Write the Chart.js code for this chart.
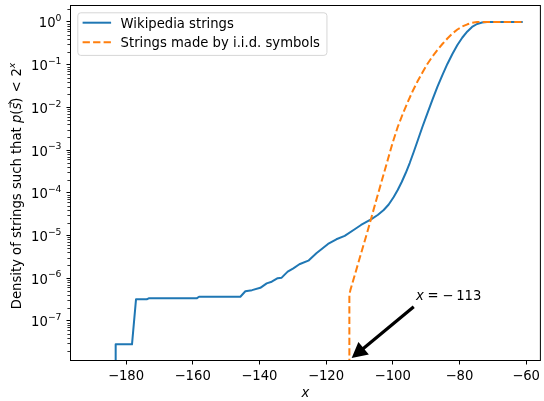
<!DOCTYPE html>
<html>
<head>
<meta charset="utf-8">
<script src="https://cdn.jsdelivr.net/npm/chart.js@4.4.0/dist/chart.umd.min.js"></script>
<style>
  html, body { margin: 0; padding: 0; background: #fff; }
  #wrap { width: 544px; height: 401px; }
</style>
</head>
<body>
<div id="wrap"><canvas id="cdf" width="544" height="401"></canvas></div>
<script>
// Share of strings whose probability falls below 2^x (log scale)
const wikiX = [-183.1, -183.1, -178.2, -177.0, -173.8, -173.2, -158.8, -158.1, -145.7, -144.2,
  -142.2, -139.7, -137.8, -136.3, -134.5, -133.3, -131.5, -129.8, -128.0, -125.3,
  -122.9, -119.4, -116.9, -114.4, -111.4, -109.5, -106.5, -104.5, -102.7, -101.2,
  -99.7, -98.5, -97.3, -96.1, -94.9, -93.7, -92.5, -91.1, -89.6, -88.1,
  -86.6, -85.1, -83.6, -82.1, -80.6, -79.1, -77.6, -76.2, -74.7, -73.2,
  -71.7, -61.0];
const wikiY = [0, 2.8e-8, 2.8e-8, 3.17e-7, 3.17e-7, 3.35e-7, 3.35e-7, 3.65e-7, 3.65e-7, 4.9e-7,
  5.2e-7, 5.9e-7, 7.5e-7, 8.2e-7, 9.9e-7, 1.02e-6, 1.41e-6, 1.69e-6, 2.1e-6, 2.55e-6,
  3.8e-6, 6.3e-6, 8.1e-6, 9.7e-6, 1.39e-5, 1.75e-5, 2.38e-5, 3.0e-5, 3.93e-5, 5.28e-5,
  7.9e-5, 1.16e-4, 1.78e-4, 2.89e-4, 4.96e-4, 8.98e-4, 1.67e-3, 3.46e-3, 7.2e-3, 1.49e-2,
  3.0e-2, 5.7e-2, 0.104, 0.178, 0.289, 0.433, 0.6, 0.764, 0.898, 0.973,
  1.0, 1.0];

const iidX = [-113, -113, -112.7, -110.4, -107.4, -104.5, -101.5, -100.0, -98.5, -97.0,
  -95.5, -94.0, -92.5, -91.0, -89.6, -88.1, -86.6, -85.1, -83.6, -82.1,
  -80.6, -79.1, -77.6, -76.2, -74.7, -71.7, -61.0];
const iidY = [0, 4.0e-7, 5.2e-7, 2.15e-6, 1.37e-5, 8.8e-5, 5.83e-4, 1.5e-3, 3.46e-3, 6.98e-3,
  1.33e-2, 2.41e-2, 4.14e-2, 6.73e-2, 0.104, 0.155, 0.221, 0.305, 0.41, 0.537,
  0.667, 0.785, 0.883, 0.957, 1.0, 1.0, 1.0];

const xTicks = [-180, -160, -140, -120, -100, -80, -60];
const yPowers = [-7, -6, -5, -4, -3, -2, -1, 0];
const seriesNames = ['Wikipedia strings', 'Strings made by i.i.d. symbols'];
const cutoff = -113;          // first x where the i.i.d. curve is non-zero
const noteXY = [-93, 3e-7];   // where the cutoff note sits

const FONT = "'DejaVu Sans', sans-serif";
const FS = 13.2;
const BLUE = '#1f77b4';
const ORANGE = '#ff7f0e';
const DASH = [7.3, 3.2];
const LOG_FLOOR = 1e-12;      // zeros are pushed below the axis, like a clipped log plot

const pts = (xs, ys) => xs.map((x, i) => ({ x, y: ys[i] > 0 ? ys[i] : LOG_FLOOR }));
const minusFmt = v => (v < 0 ? '\u2212' + Math.abs(v) : String(v));

// spines, minor log ticks, y labels, titles, legend and the arrow note
const decor = {
  id: 'decor',
  afterDraw(chart) {
    const { ctx, chartArea: a } = chart;
    const xs = chart.scales.x, ys = chart.scales.y;
    ctx.save();

    // frame
    ctx.strokeStyle = '#000';
    ctx.lineWidth = 1;
    ctx.strokeRect(a.left - 0.5, a.top - 0.5, a.right - a.left + 1, a.bottom - a.top + 1);

    // minor ticks on the log axis
    ctx.lineWidth = 0.8;
    ctx.beginPath();
    for (let p = -9; p <= 1; p++) {
      for (let k = 2; k <= 9; k++) {
        const v = k * Math.pow(10, p);
        if (v < ys.min || v > ys.max) continue;
        const py = Math.round(ys.getPixelForValue(v)) + 0.5;
        ctx.moveTo(a.left - 1, py);
        ctx.lineTo(a.left - 3.6, py);
      }
    }
    ctx.stroke();

    // y tick labels as 10^n
    ctx.fillStyle = '#000';
    ctx.textBaseline = 'alphabetic';
    ctx.textAlign = 'left';
    const right = a.left - 9.5;
    const supFont = (FS * 0.7).toFixed(2) + 'px ' + FONT;
    yPowers.forEach(p => {
      const py = ys.getPixelForValue(Math.pow(10, p));
      const ex = p === 0 ? '0' : '\u2212' + Math.abs(p);
      ctx.font = supFont;
      const ew = ctx.measureText(ex).width;
      ctx.font = FS + 'px ' + FONT;
      const bw = ctx.measureText('10').width;
      ctx.fillText('10', right - ew - bw, py + 5.5);
      ctx.font = supFont;
      ctx.fillText(ex, right - ew, py - 0.7);
    });

    // x axis title
    ctx.font = 'italic ' + FS + 'px ' + FONT;
    ctx.textAlign = 'center';
    ctx.fillText('x', (a.left + a.right) / 2, 396.5);
    ctx.textAlign = 'left';

    drawYTitle(ctx, 20.7, (a.top + a.bottom) / 2 + 3);
    drawLegend(ctx, chart);
    drawNote(ctx, xs, ys, a);
    ctx.restore();
  }
};

function drawYTitle(ctx, bx, cy) {
  const reg = FS + 'px ' + FONT, ital = 'italic ' + FS + 'px ' + FONT;
  const sup = 'italic ' + (FS * 0.7).toFixed(2) + 'px ' + FONT;
  const segs = [
    { t: 'Density of strings such that ', f: reg },
    { t: 'p', f: ital },
    { t: '(', f: reg },
    { t: 's', f: ital, vec: true },
    { t: ')', f: reg },
    { t: ' < ', f: reg, pad: 1.5 },
    { t: '2', f: reg },
    { t: 'x', f: sup, up: 5.5 }
  ];
  let total = 0;
  segs.forEach(s => {
    ctx.font = s.f;
    s.w = ctx.measureText(s.t).width + (s.pad || 0);
    total += s.w;
  });
  ctx.save();
  ctx.translate(bx, cy);
  ctx.rotate(-Math.PI / 2);
  let x = -total / 2;
  segs.forEach(s => {
    ctx.font = s.f;
    ctx.fillText(s.t, x + (s.pad ? s.pad / 2 : 0), -(s.up || 0));
    if (s.vec) {
      // little vector arrow over the s
      const y0 = -10.5, x0 = x + 1.8, x1 = x + s.w + 1.2;
      ctx.strokeStyle = '#000';
      ctx.lineWidth = 0.9;
      ctx.beginPath();
      ctx.moveTo(x0, y0);
      ctx.lineTo(x1, y0);
      ctx.moveTo(x1 - 2.4, y0 - 1.8);
      ctx.lineTo(x1, y0);
      ctx.lineTo(x1 - 2.4, y0 + 1.8);
      ctx.stroke();
    }
    x += s.w;
  });
  ctx.restore();
}

function drawLegend(ctx, chart) {
  const a = chart.chartArea;
  const left = a.left + 6.3, top = a.top + 6.3;
  ctx.font = FS + 'px ' + FONT;
  const tw = Math.max(...seriesNames.map(n => ctx.measureText(n).width));
  const textX = left + 5.3 + 28 + 10;
  const w = textX - left + tw + 6.5, h = 42.6;
  ctx.beginPath();
  ctx.roundRect(left + 0.5, top + 0.5, w, h, 3);
  ctx.fillStyle = 'rgba(255,255,255,0.8)';
  ctx.fill();
  ctx.strokeStyle = '#d6d6d6';
  ctx.lineWidth = 1;
  ctx.stroke();
  chart.data.datasets.forEach((ds, i) => {
    const cy = top + 10.4 + i * 19.6;
    ctx.beginPath();
    ctx.strokeStyle = ds.borderColor;
    ctx.lineWidth = ds.borderWidth;
    ctx.setLineDash(ds.borderDash || []);
    ctx.moveTo(left + 5.3, cy);
    ctx.lineTo(left + 5.3 + 28.5, cy);
    ctx.stroke();
    ctx.setLineDash([]);
    ctx.fillStyle = '#000';
    ctx.fillText(ds.label, textX, cy + 4.8);
  });
}

function drawNote(ctx, xs, ys, a) {
  const tx = xs.getPixelForValue(noteXY[0]);
  const ty = ys.getPixelForValue(noteXY[1]);
  ctx.fillStyle = '#000';
  ctx.font = 'italic ' + FS + 'px ' + FONT;
  ctx.fillText('x', tx, ty);
  ctx.font = FS + 'px ' + FONT;
  ctx.fillText('=', tx + 11.4, ty);
  ctx.fillText('\u2212', tx + 26.1, ty);
  ctx.fillText(String(Math.abs(cutoff)), tx + 40.1, ty);

  // arrow from the text down to the cutoff on the bottom axis
  const sx = tx - 2.3, sy = ty + 6.4;
  const ex = xs.getPixelForValue(cutoff), ey = a.bottom;
  const dx = ex - sx, dy = ey - sy;
  const len = Math.hypot(dx, dy);
  const ux = dx / len, uy = dy / len, nx = -uy, ny = ux;
  const tipX = ex - ux * 3, tipY = ey - uy * 3;
  const hl = 15.5, hw = 8.2, sw = 1.6;
  const bx = tipX - ux * hl, by = tipY - uy * hl;
  ctx.beginPath();
  ctx.moveTo(sx + nx * sw, sy + ny * sw);
  ctx.lineTo(bx + nx * sw, by + ny * sw);
  ctx.lineTo(bx + nx * hw, by + ny * hw);
  ctx.lineTo(tipX, tipY);
  ctx.lineTo(bx - nx * hw, by - ny * hw);
  ctx.lineTo(bx - nx * sw, by - ny * sw);
  ctx.lineTo(sx - nx * sw, sy - ny * sw);
  ctx.closePath();
  ctx.fill();
}

new Chart(document.getElementById('cdf'), {
  type: 'line',
  data: {
    datasets: [
      { label: seriesNames[0], data: pts(wikiX, wikiY), borderColor: BLUE, borderWidth: 2,
        pointRadius: 0, tension: 0, fill: false, borderJoinStyle: 'round', order: 2 },
      { label: seriesNames[1], data: pts(iidX, iidY), borderColor: ORANGE, borderWidth: 2,
        borderDash: DASH, pointRadius: 0, tension: 0, fill: false, borderJoinStyle: 'round', order: 1 }
    ]
  },
  options: {
    responsive: false,
    animation: false,
    events: [],
    layout: { padding: { top: 6, right: 1, left: 0, bottom: 0 } },
    plugins: { legend: { display: false }, tooltip: { enabled: false } },
    scales: {
      x: {
        type: 'linear', min: -196.5, max: -55.85,
        afterBuildTicks: s => { s.ticks = xTicks.map(v => ({ value: v })); },
        afterFit: s => { s.height = 41; },
        border: { display: false },
        grid: { drawOnChartArea: false, drawTicks: true, tickLength: 4.5, tickColor: '#000', tickWidth: 1 },
        ticks: { color: '#000', font: { family: FONT, size: FS }, padding: 4, maxRotation: 0,
          autoSkip: false, callback: v => minusFmt(v) }
      },
      y: {
        type: 'logarithmic', min: 1.2e-8, max: 2.37,
        afterBuildTicks: s => { s.ticks = yPowers.map(p => ({ value: Math.pow(10, p) })); },
        afterFit: s => { s.width = 71; },
        border: { display: false },
        grid: { drawOnChartArea: false, drawTicks: true, tickLength: 4.5, tickColor: '#000', tickWidth: 1 },
        ticks: { display: false }
      }
    }
  },
  plugins: [decor]
});
</script>
</body>
</html>
